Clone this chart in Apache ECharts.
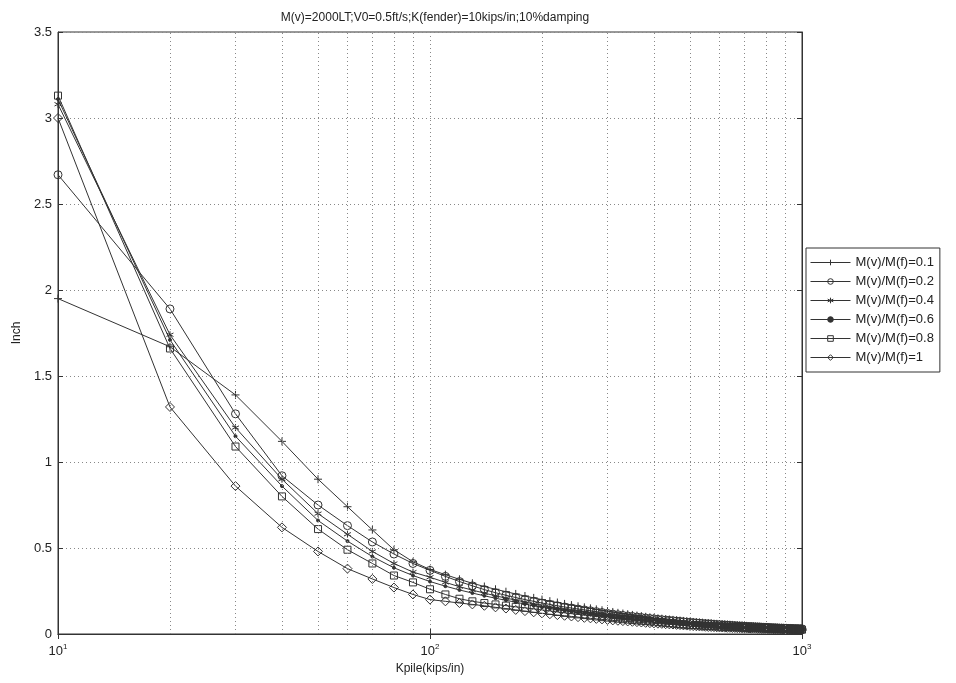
<!DOCTYPE html>
<html>
<head>
<meta charset="utf-8">
<script src="https://cdn.jsdelivr.net/npm/echarts@6.0.0/dist/echarts.min.js"></script>
<style>
  html, body { margin: 0; padding: 0; background: #fff; }
  #main { width: 956px; height: 683px; }
</style>
</head>
<body>
<div id="main"></div>
<script>
// 横轴: Kpile 10 ~ 1000, 步长 10
var kpile = [];
for (var k = 10; k <= 1000; k += 10) kpile.push(k);

// 对数轴的次网格线位置
var minorX = [20, 30, 40, 50, 60, 70, 80, 90, 200, 300, 400, 500, 600, 700, 800, 900];

var names = ['M(v)/M(f)=0.1', 'M(v)/M(f)=0.2', 'M(v)/M(f)=0.4', 'M(v)/M(f)=0.6', 'M(v)/M(f)=0.8', 'M(v)/M(f)=1'];

var r01 = [
  1.95, 1.67, 1.39, 1.12, 0.90, 0.74, 0.605, 0.49, 0.42, 0.375,
  0.345, 0.318, 0.295, 0.276, 0.26, 0.246, 0.233, 0.221, 0.21, 0.20,
  0.191, 0.183, 0.175, 0.168, 0.161, 0.155, 0.149, 0.143, 0.138, 0.133,
  0.128, 0.123, 0.119, 0.115, 0.111, 0.107, 0.104, 0.1, 0.097, 0.094,
  0.091, 0.089, 0.086, 0.084, 0.082, 0.08, 0.078, 0.076, 0.074, 0.072,
  0.07, 0.069, 0.067, 0.066, 0.064, 0.063, 0.062, 0.06, 0.059, 0.058,
  0.057, 0.056, 0.055, 0.054, 0.053, 0.052, 0.051, 0.05, 0.049, 0.048,
  0.047, 0.046, 0.046, 0.045, 0.044, 0.043, 0.043, 0.042, 0.041, 0.041,
  0.04, 0.039, 0.039, 0.038, 0.038, 0.037, 0.036, 0.036, 0.035, 0.035,
  0.034, 0.034, 0.034, 0.033, 0.033, 0.032, 0.032, 0.032, 0.031, 0.031
];
var r02 = [
  2.67, 1.89, 1.28, 0.92, 0.75, 0.63, 0.535, 0.465, 0.41, 0.37,
  0.335, 0.305, 0.28, 0.258, 0.24, 0.225, 0.212, 0.2, 0.19, 0.18,
  0.172, 0.164, 0.157, 0.151, 0.145, 0.14, 0.135, 0.13, 0.125, 0.12,
  0.116, 0.112, 0.108, 0.105, 0.102, 0.099, 0.096, 0.093, 0.09, 0.088,
  0.085, 0.083, 0.081, 0.079, 0.077, 0.075, 0.073, 0.071, 0.069, 0.067,
  0.066, 0.064, 0.063, 0.061, 0.06, 0.059, 0.058, 0.056, 0.055, 0.054,
  0.053, 0.052, 0.051, 0.05, 0.049, 0.048, 0.047, 0.046, 0.046, 0.045,
  0.044, 0.043, 0.043, 0.042, 0.041, 0.041, 0.04, 0.039, 0.039, 0.038,
  0.038, 0.037, 0.036, 0.036, 0.035, 0.035, 0.034, 0.034, 0.034, 0.033,
  0.033, 0.032, 0.032, 0.032, 0.031, 0.031, 0.031, 0.03, 0.03, 0.03
];
var r04 = [
  3.08, 1.74, 1.20, 0.90, 0.70, 0.58, 0.48, 0.41, 0.36, 0.33,
  0.30, 0.275, 0.255, 0.238, 0.222, 0.209, 0.197, 0.186, 0.175, 0.166,
  0.158, 0.151, 0.144, 0.138, 0.133, 0.128, 0.123, 0.118, 0.114, 0.11,
  0.106, 0.103, 0.1, 0.097, 0.094, 0.091, 0.088, 0.086, 0.084, 0.082,
  0.08, 0.078, 0.076, 0.074, 0.072, 0.07, 0.068, 0.066, 0.064, 0.062,
  0.061, 0.06, 0.058, 0.057, 0.056, 0.055, 0.054, 0.053, 0.052, 0.051,
  0.05, 0.049, 0.048, 0.047, 0.046, 0.045, 0.045, 0.044, 0.043, 0.042,
  0.042, 0.041, 0.04, 0.04, 0.039, 0.038, 0.038, 0.037, 0.037, 0.036,
  0.036, 0.035, 0.035, 0.034, 0.034, 0.033, 0.033, 0.032, 0.032, 0.032,
  0.031, 0.031, 0.031, 0.03, 0.03, 0.03, 0.029, 0.029, 0.029, 0.029
];
var r06 = [
  3.11, 1.71, 1.15, 0.86, 0.66, 0.54, 0.45, 0.385, 0.34, 0.305,
  0.278, 0.256, 0.238, 0.222, 0.208, 0.196, 0.185, 0.174, 0.164, 0.155,
  0.148, 0.141, 0.135, 0.129, 0.124, 0.119, 0.114, 0.11, 0.106, 0.102,
  0.098, 0.095, 0.092, 0.089, 0.087, 0.084, 0.082, 0.08, 0.078, 0.076,
  0.074, 0.072, 0.07, 0.068, 0.066, 0.064, 0.062, 0.06, 0.058, 0.057,
  0.056, 0.055, 0.054, 0.053, 0.052, 0.051, 0.05, 0.049, 0.048, 0.047,
  0.046, 0.045, 0.045, 0.044, 0.043, 0.042, 0.042, 0.041, 0.04, 0.04,
  0.039, 0.039, 0.038, 0.037, 0.037, 0.036, 0.036, 0.035, 0.035, 0.034,
  0.034, 0.033, 0.033, 0.033, 0.032, 0.032, 0.031, 0.031, 0.031, 0.03,
  0.03, 0.03, 0.029, 0.029, 0.029, 0.028, 0.028, 0.028, 0.027, 0.027
];
var r08 = [
  3.13, 1.66, 1.09, 0.80, 0.61, 0.49, 0.41, 0.34, 0.30, 0.26,
  0.23, 0.205, 0.19, 0.18, 0.172, 0.165, 0.158, 0.152, 0.146, 0.14,
  0.134, 0.128, 0.123, 0.118, 0.114, 0.11, 0.106, 0.102, 0.098, 0.095,
  0.092, 0.089, 0.086, 0.084, 0.081, 0.079, 0.077, 0.075, 0.073, 0.071,
  0.069, 0.067, 0.065, 0.063, 0.061, 0.059, 0.057, 0.055, 0.054, 0.053,
  0.052, 0.051, 0.05, 0.049, 0.048, 0.047, 0.046, 0.045, 0.044, 0.044,
  0.043, 0.042, 0.041, 0.041, 0.04, 0.039, 0.039, 0.038, 0.037, 0.037,
  0.036, 0.036, 0.035, 0.035, 0.034, 0.034, 0.033, 0.033, 0.032, 0.032,
  0.031, 0.031, 0.031, 0.03, 0.03, 0.029, 0.029, 0.029, 0.028, 0.028,
  0.028, 0.027, 0.027, 0.027, 0.026, 0.026, 0.026, 0.025, 0.025, 0.025
];
var r10 = [
  3.00, 1.32, 0.86, 0.62, 0.48, 0.38, 0.32, 0.27, 0.23, 0.20,
  0.19, 0.18, 0.172, 0.164, 0.155, 0.148, 0.14, 0.133, 0.126, 0.12,
  0.115, 0.11, 0.106, 0.102, 0.098, 0.094, 0.091, 0.088, 0.085, 0.082,
  0.079, 0.077, 0.075, 0.073, 0.071, 0.069, 0.067, 0.065, 0.063, 0.062,
  0.06, 0.059, 0.057, 0.056, 0.055, 0.053, 0.052, 0.05, 0.049, 0.047,
  0.046, 0.045, 0.044, 0.043, 0.042, 0.041, 0.041, 0.04, 0.039, 0.038,
  0.038, 0.037, 0.036, 0.036, 0.035, 0.035, 0.034, 0.034, 0.033, 0.033,
  0.032, 0.032, 0.031, 0.031, 0.031, 0.03, 0.03, 0.029, 0.029, 0.029,
  0.028, 0.028, 0.028, 0.027, 0.027, 0.027, 0.026, 0.026, 0.026, 0.025,
  0.025, 0.025, 0.025, 0.024, 0.024, 0.024, 0.024, 0.023, 0.023, 0.023
];

var values = [r01, r02, r04, r06, r08, r10];

// MATLAB 风格标记: + o * . □ ◇ (空心, 只描边)
var plusPath = 'path://M5,0L5,10M0,5L10,5';
var starPath = 'path://M5,0L5,10M0.7,2.5L9.3,7.5M0.7,7.5L9.3,2.5';
var symbols = [plusPath, 'circle', starPath, 'circle', 'rect', 'diamond'];
var sizes = [8, 8, 7, 3, 7, 9];

var lineColor = '#333';
var font = 'Liberation Sans, Arial, sans-serif';

var myChart = echarts.init(document.getElementById('main'));

var series = names.map(function (name, i) {
  var s = {
    name: name,
    type: 'line',
    data: kpile.map(function (k, j) { return [k, values[i][j]]; }),
    symbol: symbols[i],
    symbolSize: sizes[i],
    showAllSymbol: true,
    lineStyle: { color: lineColor, width: 1 },
    itemStyle: {
      color: i === 3 ? lineColor : 'rgba(0,0,0,0)',
      borderColor: lineColor,
      borderWidth: 1
    },
    emphasis: { disabled: true }
  };
  if (i === 0) {
    // 对数轴次网格线
    s.markLine = {
      silent: true,
      symbol: 'none',
      label: { show: false },
      lineStyle: { type: [1, 3], color: '#888', width: 1 },
      data: minorX.map(function (v) { return { xAxis: v }; })
    };
  }
  return s;
});

var option = {
  animation: false,
  backgroundColor: '#fff',
  title: {
    text: 'M(v)=2000LT;V0=0.5ft/s;K(fender)=10kips/in;10%damping',
    left: 430,
    textAlign: 'center',
    top: 7,
    textStyle: { fontFamily: font, fontSize: 12, fontWeight: 'normal', color: '#222' }
  },
  legend: {
    orient: 'vertical',
    left: 806,
    top: 248,
    padding: [8, 6, 8, 4],
    itemWidth: 40,
    itemHeight: 7,
    itemGap: 6,
    backgroundColor: '#fff',
    borderColor: '#333',
    borderWidth: 1,
    lineStyle: { width: 1 },
    itemStyle: { borderWidth: 1 },
    textStyle: { fontFamily: font, fontSize: 13, color: '#222' },
    data: names
  },
  grid: {
    left: 58,
    right: 154,
    top: 32,
    bottom: 49,
    show: true,
    borderColor: '#333',
    borderWidth: 1
  },
  xAxis: [{
    type: 'log',
    logBase: 10,
    min: 10,
    max: 1000,
    name: 'Kpile(kips/in)',
    nameLocation: 'middle',
    nameGap: 28,
    nameTextStyle: { fontFamily: font, fontSize: 12, color: '#222' },
    axisLine: { lineStyle: { color: '#333' } },
    axisTick: { inside: true, length: 5, lineStyle: { color: '#333' } },
    axisLabel: {
      margin: 9,
      formatter: function (v) {
        return '{b|10}{s|' + Math.round(Math.log10(v)) + '}';
      },
      rich: {
        b: { fontFamily: font, fontSize: 13, color: '#222' },
        s: { fontFamily: font, fontSize: 8, color: '#222', padding: [0, 0, 9, 0] }
      }
    },
    splitLine: { show: true, lineStyle: { type: [1, 3], color: '#888' } }
  }, {
    type: 'log',
    logBase: 10,
    min: 10,
    max: 1000,
    position: 'top',
    axisLine: { lineStyle: { color: '#333' } },
    axisTick: { inside: true, length: 5, lineStyle: { color: '#333' } },
    axisLabel: { show: false },
    splitLine: { show: false }
  }],
  yAxis: [{
    type: 'value',
    min: 0,
    max: 3.5,
    interval: 0.5,
    name: 'Inch',
    nameLocation: 'middle',
    nameGap: 28,
    nameTextStyle: { fontFamily: font, fontSize: 12, color: '#222' },
    axisLine: { show: true, lineStyle: { color: '#333' } },
    axisTick: { inside: true, length: 5, lineStyle: { color: '#333' } },
    axisLabel: { fontFamily: font, fontSize: 13, color: '#222', margin: 6 },
    splitLine: { show: true, lineStyle: { type: [1, 3], color: '#888' } }
  }, {
    type: 'value',
    min: 0,
    max: 3.5,
    interval: 0.5,
    position: 'right',
    axisLine: { show: true, lineStyle: { color: '#333' } },
    axisTick: { inside: true, length: 5, lineStyle: { color: '#333' } },
    axisLabel: { show: false },
    splitLine: { show: false }
  }],
  series: series
};
myChart.setOption(option);
</script>
</body>
</html>
